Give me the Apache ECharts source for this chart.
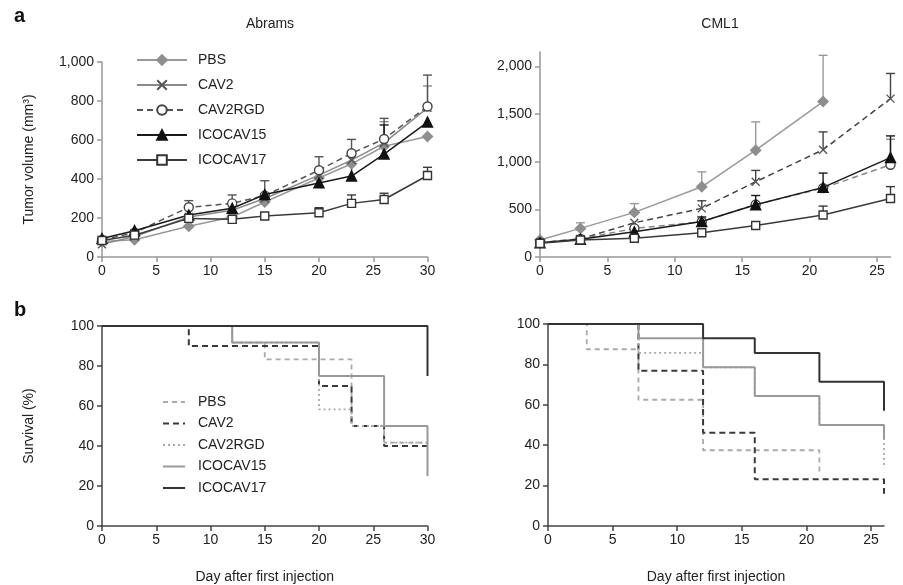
<!DOCTYPE html>
<html><head><meta charset="utf-8">
<script src="https://cdn.jsdelivr.net/npm/echarts@6/dist/echarts.min.js"></script>
<style>html,body{margin:0;padding:0;background:#fff}#c{width:903px;height:585px}</style>
</head><body><div id="c"></div>
<script>
// ---------- DATA ----------
const groups = ['PBS', 'CAV2', 'CAV2RGD', 'ICOCAV15', 'ICOCAV17'];

// Tumor volume, Abrams
const abramsDays = [0, 3, 8, 12, 15, 20, 23, 26, 30];
const abramsPBS      = [80, 88, 158, 205, 282, 405, 478, 568, 618];
const abramsCAV2     = [65, 105, 205, 240, 300, 420, 497, 585, 765];
const abramsCAV2RGD  = [88, 125, 255, 275, 315, 445, 532, 605, 772];
const abramsICO15    = [95, 135, 215, 250, 320, 380, 415, 528, 692];
const abramsICO17    = [85, 112, 198, 193, 210, 227, 275, 295, 418];
// upper ends of error bars (null = none visible)
const abramsErrPBS     = [null, null, null, null, null, null, null, null, null];
const abramsErrCAV2    = [null, null, null, null, null, null, null, 694, 877];
const abramsErrCAV2RGD = [null, 140, 289, 318, 391, 514, 603, 711, 933];
const abramsErrICO15   = [null, null, null, null, null, null, 477, 677, null];
const abramsErrICO17   = [null, null, null, null, null, 253, 318, 327, 460];

// Tumor volume, CML1
const cmlDays = [0, 3, 7, 12, 16, 21, 26];
const cmlPBS      = [178, 300, 468, 736, 1120, 1630, null];
const cmlCAV2     = [150, 190, 359, 510, 789, 1125, 1661];
const cmlCAV2RGD  = [150, 190, 300, 370, 550, 722, 968];
const cmlICO15    = [150, 185, 265, 372, 548, 730, 1042];
const cmlICO17    = [143, 178, 196, 255, 330, 440, 614];
const cmlErrPBS     = [null, 359, 560, 893, 1417, 2115, null];
const cmlErrCAV2    = [null, null, null, 590, 908, 1312, 1925];
const cmlErrCAV2RGD = [null, null, null, null, null, null, 1235];
const cmlErrICO15   = [null, null, null, 420, 645, 880, 1270];
const cmlErrICO17   = [null, null, null, null, null, 534, 738];

// Survival (%), Abrams  (time of step, survival after step)
const sAbPBS_t  = [0, 12, 15, 23, 26, 30];       const sAbPBS_s  = [100, 91.7, 83.3, 50, 41.7, 41.7];
const sAbCAV2_t = [0, 8, 20, 23, 26, 30];        const sAbCAV2_s = [100, 90, 70, 50, 40, 40];
const sAbRGD_t  = [0, 12, 20, 23, 26, 30];       const sAbRGD_s  = [100, 91.7, 58.3, 50, 41.7, 41.7];
const sAbI15_t  = [0, 12, 20, 26, 30];           const sAbI15_s  = [100, 91.7, 75, 50, 25];
const sAbI17_t  = [0, 30];                       const sAbI17_s  = [100, 75];

// Survival (%), CML1
const sCmPBS_t  = [0, 3, 7, 12, 21];             const sCmPBS_s  = [100, 87.5, 62.5, 37.5, 25];
const sCmCAV2_t = [0, 7, 12, 16, 26];            const sCmCAV2_s = [100, 76.9, 46.2, 23.1, 16];
const sCmRGD_t  = [0, 7, 12, 16, 21, 26];        const sCmRGD_s  = [100, 85.7, 78.6, 64.3, 50, 28.6];
const sCmI15_t  = [0, 7, 12, 16, 21, 26];        const sCmI15_s  = [100, 92.9, 78.6, 64.3, 50, 42.9];
const sCmI17_t  = [0, 12, 16, 21, 26];           const sCmI17_s  = [100, 92.9, 85.7, 71.4, 57.1];

const volTicksA = [0, 200, 400, 600, 800, 1000];
const volTicksC = [0, 500, 1000, 1500, 2000];
const dayTicks30 = [0, 5, 10, 15, 20, 25, 30];
const dayTicks26 = [0, 5, 10, 15, 20, 25];
const survTicks = [0, 20, 40, 60, 80, 100];

// ---------- BUILD ----------
const FONT = 'Liberation Sans, Arial, Helvetica, sans-serif';
const pairs = (xs, ys) => xs.map((x, i) => [x, ys[i]]).filter(p => p[1] != null);
const errPairs = (xs, ys, us) => xs.map((x, i) => [x, ys[i], us[i]]).filter(p => p[1] != null && p[2] != null);

const X_PATH = 'path://M0,0L10,10M10,0L0,10';
const markerStyles = {
  PBS:      { symbol: 'diamond', size: 10, fill: '#8e8e8e', border: '#8e8e8e' },
  CAV2:     { symbol: X_PATH, size: 8, fill: 'rgba(0,0,0,0)', border: '#555' },
  CAV2RGD:  { symbol: 'circle', size: 9, fill: '#fff', border: '#444' },
  ICOCAV15: { symbol: 'triangle', size: 10, fill: '#111', border: '#111' },
  ICOCAV17: { symbol: 'rect', size: 8, fill: '#fff', border: '#333' }
};
const lineA = {
  PBS: { c: '#999', t: 'solid' }, CAV2: { c: '#8a8a8a', t: 'solid' }, CAV2RGD: { c: '#555', t: [6, 4] },
  ICOCAV15: { c: '#1a1a1a', t: 'solid' }, ICOCAV17: { c: '#3a3a3a', t: 'solid' }
};
const lineC = {
  PBS: { c: '#999', t: 'solid' }, CAV2: { c: '#444', t: [6, 4] }, CAV2RGD: { c: '#888', t: [6, 4] },
  ICOCAV15: { c: '#1a1a1a', t: 'solid' }, ICOCAV17: { c: '#3a3a3a', t: 'solid' }
};
const survStyle = {
  PBS: { c: '#aaa', t: [5, 4], w: 1.8 }, CAV2: { c: '#3a3a3a', t: [6, 4], w: 2 },
  CAV2RGD: { c: '#aaa', t: [2, 3], w: 1.8 }, ICOCAV15: { c: '#999', t: 'solid', w: 2 },
  ICOCAV17: { c: '#333', t: 'solid', w: 2 }
};

const volA = [abramsPBS, abramsCAV2, abramsCAV2RGD, abramsICO15, abramsICO17];
const errA = [abramsErrPBS, abramsErrCAV2, abramsErrCAV2RGD, abramsErrICO15, abramsErrICO17];
const volC = [cmlPBS, cmlCAV2, cmlCAV2RGD, cmlICO15, cmlICO17];
const errC = [cmlErrPBS, cmlErrCAV2, cmlErrCAV2RGD, cmlErrICO15, cmlErrICO17];
const survA = [[sAbPBS_t, sAbPBS_s], [sAbCAV2_t, sAbCAV2_s], [sAbRGD_t, sAbRGD_s], [sAbI15_t, sAbI15_s], [sAbI17_t, sAbI17_s]];
const survC = [[sCmPBS_t, sCmPBS_s], [sCmCAV2_t, sCmCAV2_s], [sCmRGD_t, sCmRGD_s], [sCmI15_t, sCmI15_s], [sCmI17_t, sCmI17_s]];

const series = [];
function errSeries(idx, data, color) {
  return {
    type: 'custom', xAxisIndex: idx, yAxisIndex: idx, z: 1, silent: true, data: data,
    renderItem: function (params, api) {
      const p = api.coord([api.value(0), api.value(1)]);
      const q = api.coord([api.value(0), api.value(2)]);
      const st = { stroke: color, lineWidth: 1.4 };
      return { type: 'group', children: [
        { type: 'line', shape: { x1: p[0], y1: p[1], x2: q[0], y2: q[1] }, style: st },
        { type: 'line', shape: { x1: q[0] - 4.5, y1: q[1], x2: q[0] + 4.5, y2: q[1] }, style: st }
      ]};
    }
  };
}
function volSeries(idx, days, vols, errs, lines) {
  groups.forEach((g, i) => {
    const m = markerStyles[g], l = lines[g];
    series.push(errSeries(idx, errPairs(days, vols[i], errs[i]), l.c));
    series.push({
      type: 'line', name: g, xAxisIndex: idx, yAxisIndex: idx, z: 3 + i,
      data: pairs(days, vols[i]), symbol: m.symbol, symbolSize: m.size, showAllSymbol: true,
      lineStyle: { color: l.c, type: l.t, width: 1.5 },
      itemStyle: { color: m.fill, borderColor: m.border, borderWidth: 1.4 },
      emphasis: { disabled: true }, animation: false
    });
  });
}
volSeries(0, abramsDays, volA, errA, lineA);
volSeries(1, cmlDays, volC, errC, lineC);
function survSeries(idx, surv) {
  groups.forEach((g, i) => {
    const s = survStyle[g];
    series.push({
      type: 'line', name: 'S-' + g, xAxisIndex: idx, yAxisIndex: idx, step: 'end', z: 3 + i,
      data: pairs(surv[i][0], surv[i][1]), symbol: 'none',
      lineStyle: { color: s.c, type: s.t, width: s.w }, itemStyle: { color: s.c },
      emphasis: { disabled: true }, animation: false
    });
  });
}
survSeries(2, survA);
survSeries(3, survC);

function note(idx, pt, txt, off) {
  series.push({
    type: 'scatter', xAxisIndex: idx, yAxisIndex: idx, data: [pt], symbolSize: 1,
    itemStyle: { opacity: 0 }, silent: true, z: 10,
    label: { show: true, formatter: txt, position: 'right', distance: 5, offset: off,
             color: '#111', fontSize: 15, fontFamily: FONT }
  });
}
note(0, [30, 418], '#', [0, 7]);
note(2, [30, 75], '#', [0, 10]);
note(1, [26, 614], '*', [-2, 5]);
note(3, [26, 57.1], '*', [4, -4]);

const labelStyle = { color: '#222', fontSize: 14, fontFamily: FONT };
function xAxis(idx, max, ticks, col, name) {
  return {
    type: 'value', gridIndex: idx, min: 0, max: max, interval: 5,
    axisLine: { show: true, onZero: false, lineStyle: { color: col, width: 1.5 } },
    axisTick: { show: true, length: 5, lineStyle: { color: col, width: 1.5 }, customValues: ticks },
    axisLabel: Object.assign({ margin: 7, customValues: ticks }, labelStyle),
    splitLine: { show: false },
    name: name || '', nameLocation: 'middle', nameGap: 44,
    nameTextStyle: { color: '#222', fontSize: 14, fontFamily: FONT }
  };
}
function yAxis(idx, max, interval, ticks, col, name) {
  return {
    type: 'value', gridIndex: idx, min: 0, max: max, interval: interval,
    axisLine: { show: true, lineStyle: { color: col, width: 1.5 } },
    axisTick: { show: true, length: 5, lineStyle: { color: col, width: 1.5 }, customValues: ticks },
    axisLabel: Object.assign({ margin: 8, customValues: ticks,
      formatter: v => v.toLocaleString('en-US') }, labelStyle),
    splitLine: { show: false },
    name: name || '', nameLocation: 'middle', nameGap: 66, nameRotate: 90,
    nameTextStyle: { color: '#222', fontSize: 14, fontFamily: FONT }
  };
}

const option = {
  animation: false,
  backgroundColor: '#fff',
  textStyle: { fontFamily: FONT },
  title: [
    { text: 'Abrams', left: 265, top: 12, textAlign: 'center', textStyle: { fontSize: 14, fontWeight: 'normal', color: '#222', fontFamily: FONT } },
    { text: 'CML1', left: 715, top: 12, textAlign: 'center', textStyle: { fontSize: 14, fontWeight: 'normal', color: '#222', fontFamily: FONT } },
    { text: 'a', left: 9, top: 1, textStyle: { fontSize: 20, fontWeight: 'bold', color: '#111', fontFamily: FONT } },
    { text: 'b', left: 9, top: 295, textStyle: { fontSize: 20, fontWeight: 'bold', color: '#111', fontFamily: FONT } }
  ],
  grid: [
    { left: 102, top: 62, width: 325.5, height: 195 },
    { left: 540, top: 52, width: 350.5, height: 205 },
    { left: 102, top: 326, width: 325.5, height: 200 },
    { left: 548, top: 324, width: 336, height: 202 }
  ],
  xAxis: [
    xAxis(0, 30, dayTicks30, '#999'),
    xAxis(1, 26, dayTicks26, '#999'),
    xAxis(2, 30, dayTicks30, '#444', 'Day after first injection'),
    xAxis(3, 26, dayTicks26, '#444', 'Day after first injection')
  ],
  yAxis: [
    yAxis(0, 1000, 200, volTicksA, '#999', 'Tumor volume (mm³)'),
    yAxis(1, 2150, 500, volTicksC, '#999'),
    yAxis(2, 100, 20, survTicks, '#444', 'Survival (%)'),
    yAxis(3, 100, 20, survTicks, '#444')
  ],
  legend: [
    { orient: 'vertical', left: 131, top: 48, itemWidth: 50, itemHeight: 12, itemGap: 11,
      data: groups, selectedMode: false,
      textStyle: { color: '#222', fontSize: 14, fontFamily: FONT, padding: [0, 0, 0, 6] } },
    { orient: 'vertical', left: 157, top: 390, itemWidth: 22, itemHeight: 12, itemGap: 7.5,
      data: groups.map(g => 'S-' + g), selectedMode: false,
      itemStyle: { opacity: 0 },
      formatter: n => n.replace('S-', ''),
      textStyle: { color: '#222', fontSize: 14, fontFamily: FONT, padding: [0, 0, 0, 8] } }
  ],
  series: series
};
const chart = echarts.init(document.getElementById('c'), null, { renderer: 'canvas' });
chart.setOption(option);
</script></body></html>
